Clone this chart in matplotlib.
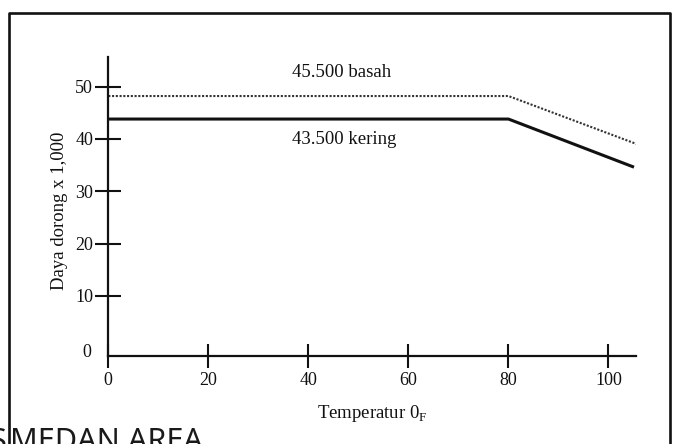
import matplotlib
matplotlib.use('Agg')
import matplotlib.pyplot as plt
from matplotlib.lines import Line2D

# values (thrust x 1,000 vs temperature F)
temp_basah = [0, 80, 105.7]
daya_basah = [48.2, 48.2, 39.0]
temp_kering = [0, 80, 105.1]
daya_kering = [43.8, 43.8, 34.6]

x_ticks = [0, 20, 40, 60, 80, 100]
y_ticks = [10, 20, 30, 40, 50]

label_basah = '45.500 basah'
label_kering = '43.500 kering'

plt.rcParams['font.family'] = ['Liberation Serif', 'DejaVu Serif']

W, H = 677, 444
fig = plt.figure(figsize=(W / 100, H / 100), dpi=100)
ax = fig.add_axes([108.3 / W, (H - 356) / H, 527.7 / W, 299.2 / H])

ax.plot(temp_basah, daya_basah, color='#333333', lw=1.5, linestyle=(0, (1, 0.8)))
ax.plot(temp_kering, daya_kering, color='#111111', lw=2.2, solid_capstyle='butt')

ax.set_xlim(0, 105.5)
ax.set_ylim(-1.5, 55.7)
ax.set_xticks(x_ticks)
ax.set_yticks(y_ticks)
ax.tick_params(direction='inout', length=17, width=1.5, labelsize=13, colors='#111111')
ax.tick_params(axis='x', pad=3)
ax.tick_params(axis='y', length=19, pad=1.5)

for s in ['top', 'right']:
    ax.spines[s].set_visible(False)
for s in ['left', 'bottom']:
    ax.spines[s].set_linewidth(1.6)
    ax.spines[s].set_color('#111111')

# the lone "0" on the vertical axis has no tick mark
ax.text(-4.3, -0.75, '0', ha='center', va='center', fontsize=13, color='#111111', clip_on=False)

ax.text(46.7, 52.7, label_basah, ha='center', va='center', fontsize=13.5, color='#111111')
ax.text(47.1, 39.9, label_kering, ha='center', va='center', fontsize=13.5, color='#111111')

fig.text(372 / W, (H - 413) / H, r'Temperatur 0$_\mathregular{F}$', ha='center', va='center',
         fontsize=13.5, color='#111111')
fig.text(60 / W, (H - 211) / H, 'Daya dorong x 1,000', rotation=90, ha='center', va='center',
         fontsize=13.5, color='#111111')

# frame of the scanned page
bx = [9 / W, 9 / W, 670 / W, 670 / W]
by = [0, (H - 13) / H, (H - 13) / H, 0]
fig.add_artist(Line2D(bx, by, transform=fig.transFigure, color='#111111', lw=1.9))

# watermark cut at the bottom edge
fig.text(7 / W, -6 / H, 'UNIVERSITAS', ha='right', va='baseline', fontsize=22,
         family='Noto Sans', color='#1a1a1a')
fig.text(10 / W, -6 / H, 'MEDAN AREA', ha='left', va='baseline', fontsize=22,
         family='Noto Sans', color='#1a1a1a')

fig.savefig('out.png', dpi=100)
